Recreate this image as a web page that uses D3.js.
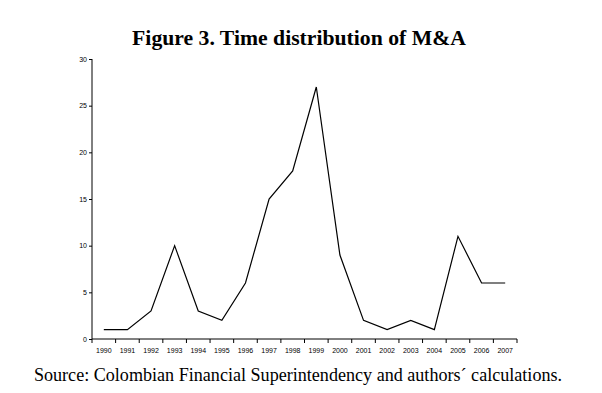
<!DOCTYPE html>
<html>
<head>
<meta charset="utf-8">
<script src="https://cdn.jsdelivr.net/npm/d3@7"></script>
<style>
  body { margin: 0; background: #fff; }
  svg { display: block; }
</style>
</head>
<body>
<div id="vis"></div>
<script>
// data
var years = ["1990","1991","1992","1993","1994","1995","1996","1997","1998","1999",
             "2000","2001","2002","2003","2004","2005","2006","2007"];
var deals = [1, 1, 3, 10, 3, 2, 6, 15, 18, 27, 9, 2, 1, 2, 1, 11, 6, 6];
var yTicks = [0, 5, 10, 15, 20, 25, 30];

var W = 602, H = 393;
var margin = {top: 59, right: 85, bottom: 54, left: 92},
    width = W - margin.left - margin.right,
    height = H - margin.top - margin.bottom;

var svg = d3.select("#vis").append("svg")
    .attr("width", W)
    .attr("height", H);

// title
svg.append("text")
    .attr("x", 299)
    .attr("y", 45)
    .attr("text-anchor", "middle")
    .style("font-family", "'Liberation Serif', 'Times New Roman', serif")
    .style("font-weight", "bold")
    .style("font-size", "21.7px")
    .text("Figure 3. Time distribution of M&A");

// source note
svg.append("text")
    .attr("x", 298)
    .attr("y", 381)
    .attr("text-anchor", "middle")
    .style("font-family", "'Liberation Serif', 'Times New Roman', serif")
    .style("font-size", "18.1px")
    .text("Source: Colombian Financial Superintendency and authors\u00b4 calculations.");

var g = svg.append("g")
    .attr("transform", "translate(" + margin.left + "," + margin.top + ")");

var x = d3.scaleBand()
    .domain(years)
    .range([0, width]);

var y = d3.scaleLinear()
    .domain([0, 30])
    .range([height, 0]);

// x axis: ticks on category boundaries
var xAxis = g.append("g")
    .attr("transform", "translate(0," + height + ")");
xAxis.append("line")
    .attr("x1", 0).attr("x2", width)
    .attr("stroke", "#000");
xAxis.selectAll(".xt")
    .data(d3.range(years.length + 1))
    .enter().append("line")
    .attr("x1", function(i) { return i * x.step(); })
    .attr("x2", function(i) { return i * x.step(); })
    .attr("y1", 0).attr("y2", 4)
    .attr("stroke", "#000");
xAxis.selectAll(".xl")
    .data(years)
    .enter().append("text")
    .attr("x", function(d) { return x(d) + x.bandwidth() / 2; })
    .attr("y", 14)
    .attr("text-anchor", "middle")
    .style("font-family", "'Liberation Sans', Arial, sans-serif")
    .style("font-size", "7px")
    .text(function(d) { return d; });

// y axis
g.append("g")
    .call(d3.axisLeft(y).tickValues(yTicks).tickSize(3).tickPadding(2))
    .call(function(a) {
        a.select(".domain").attr("d", "M0," + height + "V0");
        a.selectAll("text")
            .style("font-family", "'Liberation Sans', Arial, sans-serif")
            .style("font-size", "7px")
            .attr("fill", "#000");
    });

// line
var line = d3.line()
    .x(function(d, i) { return x(years[i]) + x.bandwidth() / 2; })
    .y(function(d) { return y(d); });

g.append("path")
    .datum(deals)
    .attr("d", line)
    .attr("fill", "none")
    .attr("stroke", "#000")
    .attr("stroke-width", 1.2);
</script>
</body>
</html>
